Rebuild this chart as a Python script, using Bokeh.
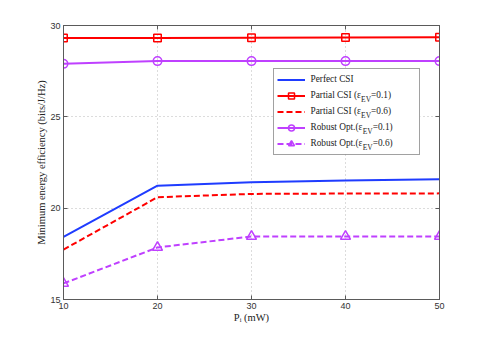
from bokeh.plotting import figure
from bokeh.models import (Range1d, FixedTicker, LinearAxis, Legend, LegendItem, Label,
                          BoxAnnotation)
from bokeh.embed import file_html
from bokeh.resources import INLINE

# ---- data ----
power_mw = [10, 20, 30, 40, 50]
perfect_csi = [18.43, 21.23, 21.42, 21.52, 21.58]
partial_01 = [29.31, 29.32, 29.33, 29.34, 29.36]
partial_06 = [17.73, 20.60, 20.78, 20.80, 20.81]
robust_01 = [27.90, 28.05, 28.05, 28.05, 28.05]
robust_06 = [15.88, 17.85, 18.45, 18.45, 18.45]
x_ticks = [10, 20, 30, 40, 50]
y_ticks = [15, 20, 25, 30]

BLUE = "#1f3cff"
RED = "#ff0000"
PURPLE = "#bf40ff"
AXC = "#5a5a5a"
SERIF = "Liberation Serif"
SANS = "Liberation Sans"

X0, X1, Y0, Y1 = 10, 50, 15, 30
FL, FR, FT, FB = 63, 439, 25, 299
W_FIG, H_FIG = 485, 337

p = figure(width=W_FIG, height=H_FIG, output_backend="svg", toolbar_location=None,
           x_range=Range1d(X0, X1), y_range=Range1d(Y0, Y1),
           min_border_left=FL, min_border_right=W_FIG - FR,
           min_border_top=FT, min_border_bottom=H_FIG - FB)
p.background_fill_color = "white"
p.border_fill_color = "white"
p.outline_line_color = AXC

xb = p.below[0]
yl = p.left[0]

def style_axis(ax, ticks, show_labels=True):
    ax.ticker = FixedTicker(ticks=ticks)
    ax.axis_line_color = AXC
    ax.major_tick_line_color = AXC
    ax.major_tick_in = 4
    ax.major_tick_out = 0
    ax.minor_tick_line_color = None
    ax.major_label_text_font = SANS
    ax.major_label_text_color = "#333333"
    ax.major_label_text_font_size = "9px"
    ax.major_label_standoff = 3
    if not show_labels:
        ax.major_label_overrides = {t: "" for t in ticks}
        ax.major_label_standoff = 0

style_axis(xb, x_ticks)
style_axis(yl, y_ticks)
top = LinearAxis()
right = LinearAxis()
style_axis(top, x_ticks, False)
style_axis(right, y_ticks, False)
p.add_layout(top, "above")
p.add_layout(right, "right")

for ax, lab in ((yl, "Minimum energy efficiency (bits/J/Hz)"),
                (xb, "P\u1d62 (mW)")):
    ax.axis_label = lab
    ax.axis_label_text_font = SERIF
    ax.axis_label_text_font_style = "normal"
    ax.axis_label_text_font_size = "10.5px"
    ax.axis_label_text_color = "#222222"
    ax.axis_label_standoff = 0

p.xgrid.ticker = FixedTicker(ticks=x_ticks)
p.ygrid.ticker = FixedTicker(ticks=y_ticks)
for g in (p.xgrid, p.ygrid):
    g.grid_line_color = "#b8b8b8"
    g.grid_line_dash = "1 3"
    g.grid_line_width = 1

# pixel -> data helpers (for decoration placement only)
XS = (X1 - X0) / (FR - FL)
YS = (Y1 - Y0) / (FB - FT)

def dx(px):
    return X0 + (px - FL) * XS

def dy(py):
    return Y1 - (py - FT) * YS

# white background behind the legend (hides the dotted grid)
LB_L, LB_R, LB_T, LB_B = 273, 420, 69, 154
p.add_layout(BoxAnnotation(left=dx(LB_L), right=dx(LB_R), top=dy(LB_T), bottom=dy(LB_B),
                           fill_color="white", fill_alpha=1, line_color=None,
                           level="glyph"))

LW = 2
r_perf = p.line(power_mw, perfect_csi, line_color=BLUE, line_width=LW)
r_p01 = p.line(power_mw, partial_01, line_color=RED, line_width=LW)
m_p01 = p.scatter(power_mw, partial_01, marker="square", size=7.5, fill_color=None,
                  line_color=RED, line_width=1.5)
r_p06 = p.line(power_mw, partial_06, line_color=RED, line_width=LW, line_dash="6 3")
r_r01 = p.line(power_mw, robust_01, line_color=PURPLE, line_width=LW)
m_r01 = p.scatter(power_mw, robust_01, marker="circle", size=8.5, fill_color=None,
                  line_color=PURPLE, line_width=1.5)
r_r06 = p.line(power_mw, robust_06, line_color=PURPLE, line_width=LW, line_dash="6 3")
m_r06 = p.scatter(power_mw, robust_06, marker="triangle", size=10, fill_color=None,
                  line_color=PURPLE, line_width=1.5)

legend = Legend(items=[
    LegendItem(label="", renderers=[r_perf]),
    LegendItem(label="", renderers=[r_p01, m_p01]),
    LegendItem(label="", renderers=[r_p06]),
    LegendItem(label="", renderers=[r_r01, m_r01]),
    LegendItem(label="", renderers=[r_r06, m_r06]),
], location=(LB_L - FL, FB - 155))
legend.label_text_font_size = "9px"
legend.label_width = 106
legend.label_height = 15
legend.glyph_height = 15
legend.glyph_width = 28
legend.label_standoff = 5
legend.spacing = 1
legend.padding = 3
legend.margin = 0
legend.border_line_color = "#444444"
legend.border_line_width = 1
legend.background_fill_alpha = 0
p.add_layout(legend, "center")

# ---- legend texts with subscripts (Times metrics, per 1000 em) ----
W = {'P': 556, 'a': 444, 'r': 333, 't': 278, 'i': 278, 'l': 278, ' ': 250, 'C': 667,
     'S': 556, 'I': 333, '(': 333, ')': 333, 'ε': 443, 'R': 667, 'o': 500, 'b': 500,
     'u': 500, 's': 389, 'O': 722, 'p': 500, '.': 250, 'E': 611, 'V': 722, '=': 564,
     '0': 500, '1': 500, '6': 500, 'e': 444, 'f': 333, 'c': 444, 'm': 778, 'W': 944}

def tw(s, fs):
    return sum(W.get(ch, 500) for ch in s) * fs / 1000.0

def put(txt, px, py, fs):
    p.add_layout(Label(x=dx(px), y=dy(py), text=txt,
                       text_font=SERIF, text_font_size=f"{fs}px", text_color="#222222",
                       text_baseline="middle", text_align="left"))

FS = 9.3
SUB = 7.5
rows = [("Perfect CSI", None, None),
        ("Partial CSI (ε", "EV", "=0.1)"),
        ("Partial CSI (ε", "EV", "=0.6)"),
        ("Robust Opt.(ε", "EV", "=0.1)"),
        ("Robust Opt.(ε", "EV", "=0.6)")]
row_y = [78.5, 94.5, 110.5, 126.5, 142.5]
text_x = 310
for (a, b, c), yy in zip(rows, row_y):
    put(a, text_x, yy, FS)
    if b:
        x1 = text_x + tw(a, FS)
        put(b, x1, yy + 4, SUB)
        put(c, x1 + tw(b, SUB), yy, FS)

open("out.html", "w").write(file_html(p, INLINE))
